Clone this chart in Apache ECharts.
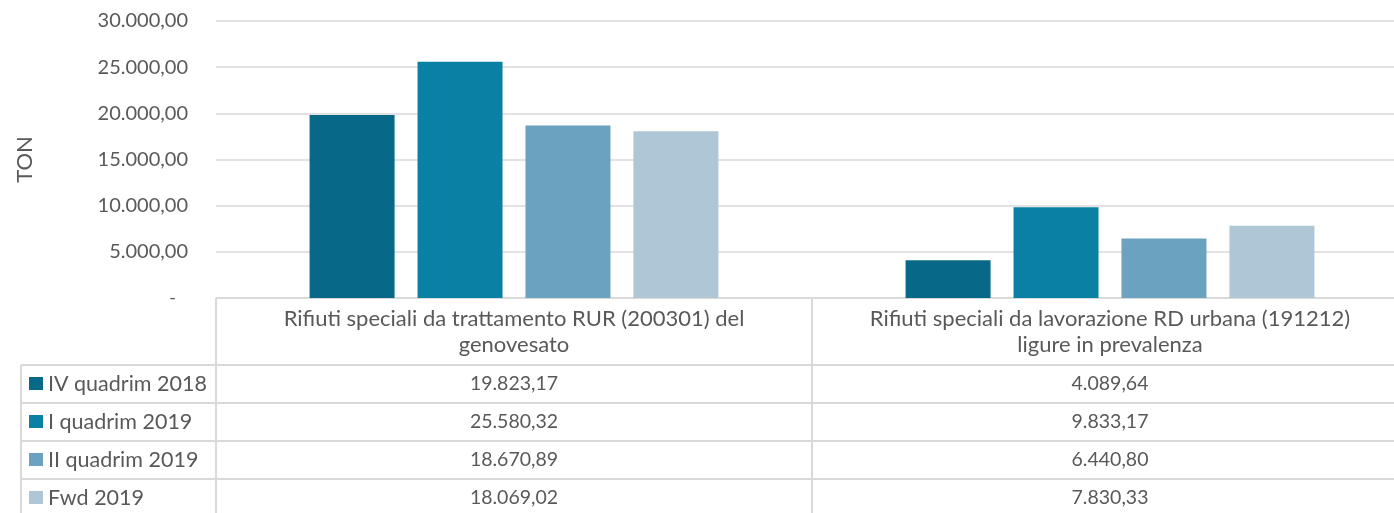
<!DOCTYPE html>
<html>
<head>
<meta charset="utf-8">
<script src="https://cdn.jsdelivr.net/npm/echarts@6/dist/echarts.min.js"></script>
<style>
  html, body { margin: 0; padding: 0; background: #fff; }
  #chart { width: 1394px; height: 513px; }
</style>
</head>
<body>
<div id="chart"></div>
<script>
// data
const categories = [
  'Rifiuti speciali da trattamento RUR (200301) del\ngenovesato',
  'Rifiuti speciali da lavorazione RD urbana (191212)\nligure in prevalenza'
];
const seriesNames = ['IV quadrim 2018', 'I quadrim 2019', 'II quadrim 2019', 'Fwd 2019'];
const ivQuadrim2018 = [19823.17, 4089.64];
const iQuadrim2019 = [25580.32, 9833.17];
const iiQuadrim2019 = [18670.89, 6440.80];
const fwd2019 = [18069.02, 7830.33];
const yTicks = [0, 5000, 10000, 15000, 20000, 25000, 30000];

const seriesData = [ivQuadrim2018, iQuadrim2019, iiQuadrim2019, fwd2019];
const colors = ['#076887', '#0a80a5', '#6aa2c0', '#aec6d6'];
const textColor = '#595959';
const lineColor = '#d9d9d9';
const fontFamily = 'Lato, "Open Sans", sans-serif';

// formato italiano: 30.000,00
const fmt = (v) => {
  const parts = v.toFixed(2).split('.');
  return parts[0].replace(/\B(?=(\d{3})+(?!\d))/g, '.') + ',' + parts[1];
};

const chart = echarts.init(document.getElementById('chart'));

chart.setOption({
  animation: false,
  grid: { left: 216, width: 1192, top: 21, bottom: 215, outerBoundsMode: 'none', containLabel: false },
  xAxis: {
    type: 'category',
    data: categories,
    axisLine: { show: false },
    axisTick: { show: false },
    axisLabel: { show: false },
  },
  yAxis: {
    type: 'value',
    min: yTicks[0],
    max: yTicks[yTicks.length - 1],
    interval: 5000,
    name: 'TON',
    nameLocation: 'middle',
    nameGap: 180,
    nameTextStyle: { color: textColor, fontSize: 22, fontFamily },
    axisLine: { show: false },
    axisTick: { show: false },
    splitLine: { lineStyle: { color: lineColor, width: 1.5 } },
    axisLabel: {
      margin: 28,
      color: textColor,
      fontSize: 20,
      fontFamily,
      formatter: (v) => (v === 0 ? '{z|-}' : fmt(v)),
      rich: { z: { padding: [0, 12, 0, 0], fontSize: 18, color: textColor } },
    },
  },
  series: seriesNames.map((name, i) => ({
    name,
    type: 'bar',
    data: seriesData[i],
    barWidth: 85,
    barGap: '27%',
    itemStyle: { color: colors[i] },
  })),
});

// tabella dati sotto il grafico
const buildTable = () => {
  const centers = categories.map((c, i) => chart.convertToPixel({ xAxisIndex: 0 }, i));
  const catW = centers[1] - centers[0];
  const x0 = centers[0] - catW / 2;
  const xEnd = centers[centers.length - 1] + catW / 2;
  const yTop = chart.convertToPixel({ yAxisIndex: 0 }, 0);
  const headerBottom = 365;
  const rowH = 38;
  const tableLeft = 21;
  const els = [];
  const line = (x1, y1, x2, y2) => els.push({
    type: 'line',
    shape: { x1, y1, x2, y2 },
    style: { stroke: lineColor, lineWidth: 2 },
    silent: true,
  });

  line(x0, yTop, xEnd, yTop);
  for (let r = 0; r <= seriesNames.length; r++) {
    const y = headerBottom + r * rowH;
    line(tableLeft, y, xEnd, y);
  }
  line(tableLeft, headerBottom, tableLeft, 520);
  for (let i = 0; i <= categories.length; i++) {
    const x = x0 + i * catW;
    line(x, yTop, x, 520);
  }

  categories.forEach((c, i) => {
    els.push({
      type: 'text',
      x: centers[i],
      y: (yTop + headerBottom) / 2,
      style: {
        text: c,
        fill: textColor,
        fontSize: 22,
        fontFamily,
        lineHeight: 26,
        align: 'center',
        verticalAlign: 'middle',
      },
    });
  });

  seriesNames.forEach((name, r) => {
    const yc = headerBottom + r * rowH + rowH / 2;
    els.push({
      type: 'rect',
      shape: { x: 29, y: yc - 7, width: 14, height: 13 },
      style: { fill: colors[r] },
    });
    els.push({
      type: 'text',
      x: 48,
      y: yc,
      style: { text: name, fill: textColor, fontSize: 21.5, fontFamily, verticalAlign: 'middle' },
    });
    seriesData[r].forEach((v, i) => {
      els.push({
        type: 'text',
        x: centers[i],
        y: yc,
        style: { text: fmt(v), fill: textColor, fontSize: 19.5, fontFamily, align: 'center', verticalAlign: 'middle' },
      });
    });
  });

  chart.setOption({ graphic: els });
};

buildTable();
</script>
</body>
</html>
